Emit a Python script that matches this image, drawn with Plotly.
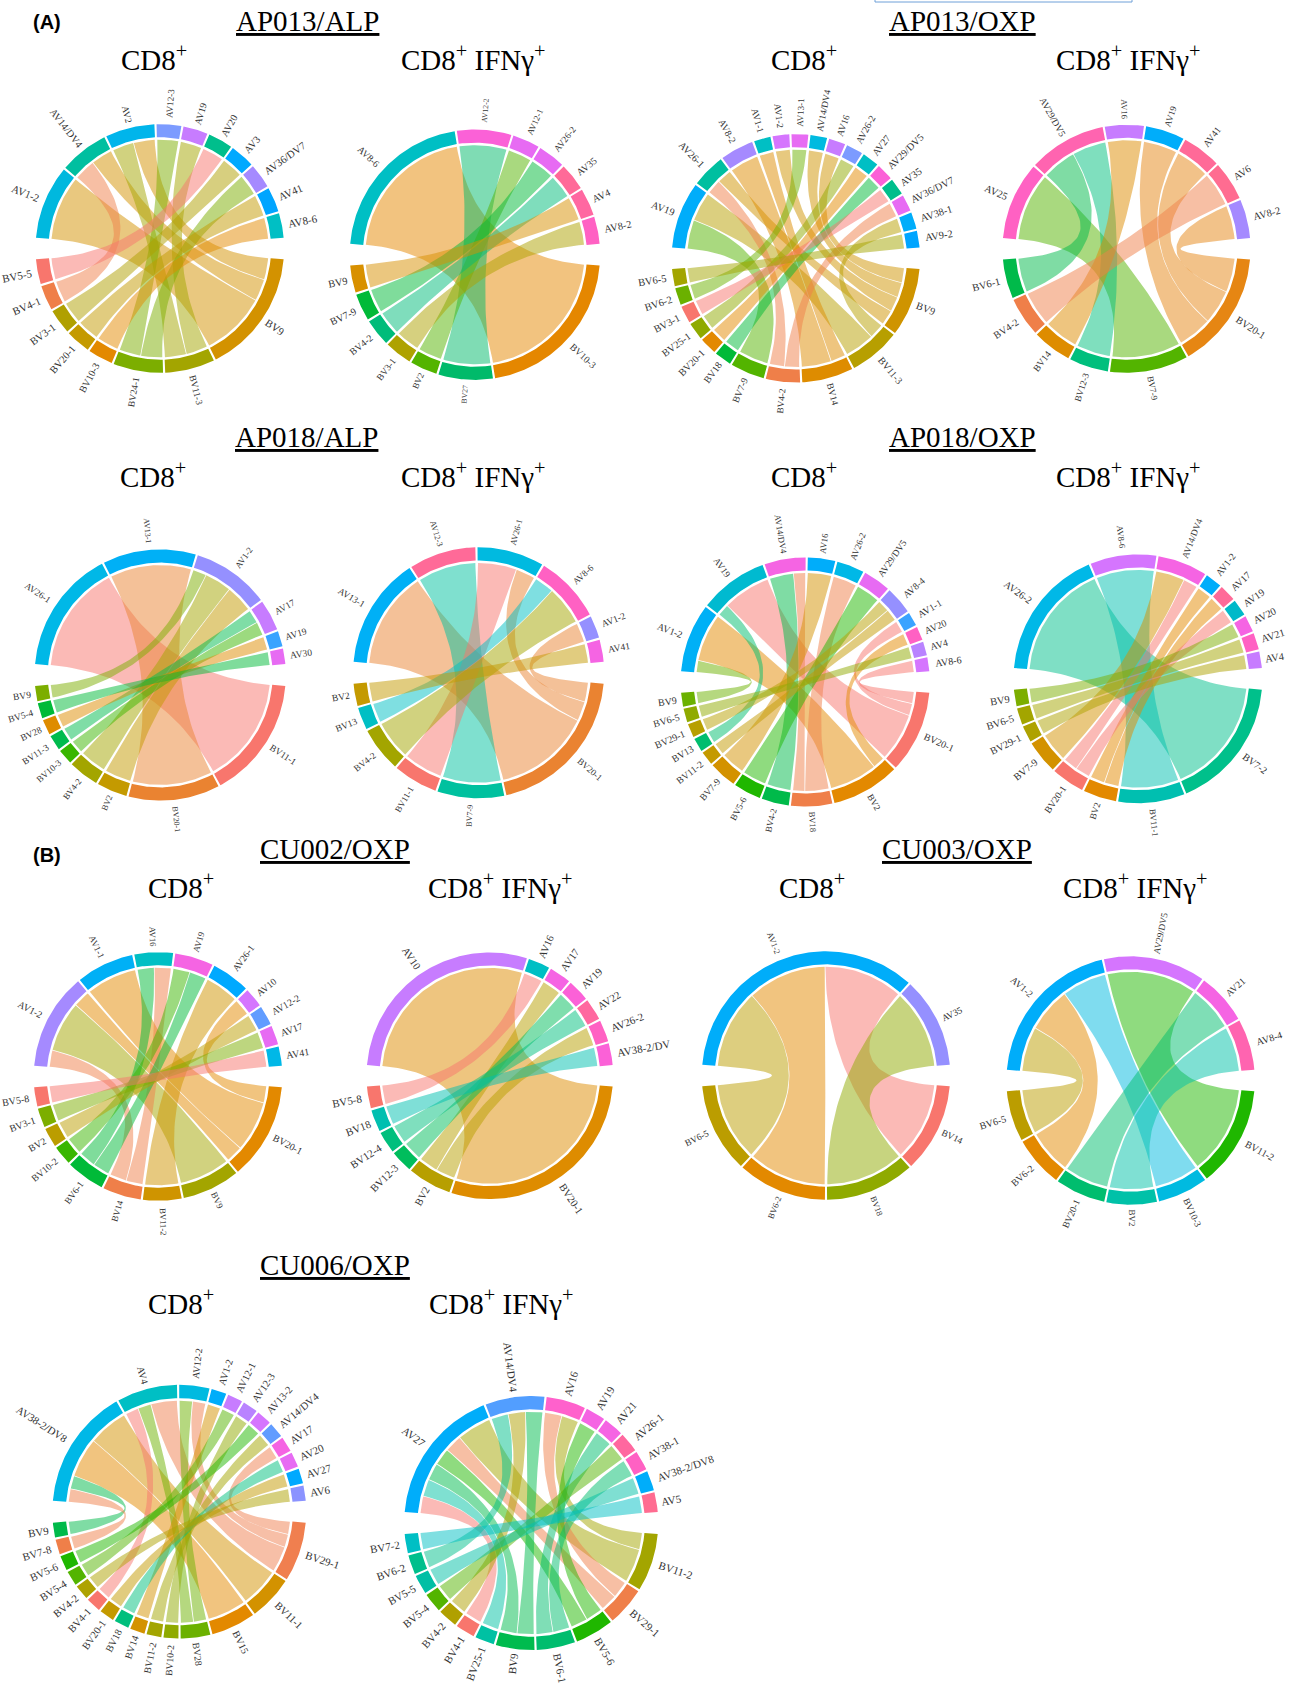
import math
import plotly.graph_objects as go

W, H = 1293, 1683

# ---- data: sector names, sector colours, links (AV, BV, clone count) ----
P1_AV = ["AV1-2","AV14/DV4","AV2","AV12-3","AV19","AV20","AV3","AV36/DV7","AV41","AV8-6"]
P1_AV_COL = ["#00B8DE","#00BFA0","#00B5EB","#7C9BFF","#C77CFF","#00BE8C","#00A9FF","#A58AFF","#00A5FF","#00BFC4"]
P1_BV = ["BV9","BV11-3","BV24-1","BV10-3","BV20-1","BV3-1","BV4-1","BV5-5"]
P1_BV_COL = ["#D39200","#A3A500","#7CAE00","#E38900","#C49A00","#B0A000","#EF7F49","#F8766D"]
P1_LINKS = [("AV1-2","BV9",3),("AV14/DV4","BV4-1",1),("AV14/DV4","BV9",1),("AV2","BV11-3",1),("AV2","BV9",1),
            ("AV12-3","BV24-1",1),("AV19","BV11-3",1),("AV20","BV5-5",1),("AV3","BV3-1",1),("AV36/DV7","BV24-1",1),
            ("AV41","BV20-1",1),("AV8-6","BV10-3",1)]

P2_AV = ["AV8-6","AV12-2","AV12-1","AV26-2","AV35","AV4","AV8-2"]
P2_AV_COL = ["#00BFC4","#FB61D7","#E76BF3","#E76BF3","#FF6A98","#FF68A1","#FF61C3"]
P2_BV = ["BV10-3","BV27","BV2","BV3-1","BV4-2","BV7-9","BV9"]
P2_BV_COL = ["#E58700","#00BA6A","#53B400","#AEA200","#00BC7A","#00BA38","#D89000"]
P2_LINKS = [("AV8-6","BV10-3",6),("AV12-2","BV27",2),("AV12-1","BV2",1),("AV26-2","BV7-9",1),
            ("AV35","BV4-2",1),("AV4","BV9",1),("AV8-2","BV3-1",1)]

P3_AV = ["AV19","AV26-1","AV8-2","AV1-1","AV1-2","AV13-1","AV14/DV4","AV16","AV26-2","AV27","AV29/DV5","AV35","AV36/DV7","AV38-1","AV9-2"]
P3_AV_COL = ["#00ADFA","#00BFA0","#A58AFF","#00BFC4","#D575FE","#E76BF3","#00BAE0","#C77CFF","#7C9BFF","#00BFC4","#FB61D7","#00BE8C","#E76BF3","#00ADFA","#00A5FF"]
P3_BV = ["BV9","BV11-3","BV14","BV4-2","BV7-9","BV18","BV20-1","BV25-1","BV3-1","BV6-2","BV6-5"]
P3_BV_COL = ["#CF9400","#B79F00","#DE8C00","#EF7F49","#53B400","#00BA38","#E38900","#8FAA00","#F8766D","#6BB100","#A3A500"]
P3_LINKS = [("AV19","BV7-9",2),("AV19","BV11-3",2),("AV26-1","BV4-2",1),("AV26-1","BV9",1),("AV8-2","BV14",2),
            ("AV1-1","BV14",1),("AV1-2","BV9",1),("AV13-1","BV6-2",1),("AV14/DV4","BV9",1),("AV16","BV9",1),
            ("AV26-2","BV25-1",1),("AV27","BV20-1",1),("AV29/DV5","BV18",1),("AV35","BV3-1",1),("AV36/DV7","BV4-2",1),
            ("AV38-1","BV11-3",1),("AV9-2","BV6-5",1)]

P4_AV = ["AV25","AV29/DV5","AV16","AV19","AV41","AV6","AV8-2"]
P4_AV_COL = ["#FF61C3","#FF64B0","#C77CFF","#00ADFA","#FF6A98","#FF6C91","#A58AFF"]
P4_BV = ["BV20-1","BV7-9","BV12-3","BV14","BV4-2","BV6-1"]
P4_BV_COL = ["#E68613","#53B400","#00BF7D","#DE8C00","#EF7F49","#00BA4A"]
P4_LINKS = [("AV25","BV7-9",2),("AV29/DV5","BV6-1",1),("AV29/DV5","BV12-3",1),("AV16","BV14",1),
            ("AV19","BV20-1",1),("AV41","BV20-1",1),("AV6","BV4-2",1),("AV8-2","BV20-1",1)]

P5_AV = ["AV26-1","AV13-1","AV1-2","AV17","AV19","AV30"]
P5_AV_COL = ["#00B8E7","#00B0F6","#9590FF","#C77CFF","#39A3FF","#E76BF3"]
P5_BV = ["BV11-1","BV20-1","BV2","BV4-2","BV10-3","BV11-3","BV28","BV5-4","BV9"]
P5_BV_COL = ["#F8766D","#EA8331","#C49A00","#A3A500","#39B600","#00BB4E","#DE8C00","#00BA38","#7CAE00"]
P5_LINKS = [("AV26-1","BV11-1",8),("AV13-1","BV20-1",6),("AV1-2","BV9",1),("AV1-2","BV4-2",2),("AV1-2","BV2",2),
            ("AV17","BV11-3",1),("AV17","BV10-3",1),("AV19","BV28",1),("AV30","BV5-4",1)]

P6_AV = ["AV13-1","AV12-3","AV26-1","AV8-6","AV1-2","AV41"]
P6_AV_COL = ["#00B0F6","#FF6A98","#00BAE0","#FF61C3","#9590FF","#F564E3"]
P6_BV = ["BV20-1","BV7-9","BV11-1","BV4-2","BV13","BV2"]
P6_BV_COL = ["#EA8331","#00C19F","#F8766D","#A3A500","#00BFC4","#C49A00"]
P6_LINKS = [("AV13-1","BV20-1",5),("AV12-3","BV7-9",3),("AV26-1","BV11-1",2),("AV26-1","BV20-1",1),
            ("AV8-6","BV13",1),("AV8-6","BV4-2",2),("AV1-2","BV20-1",1),("AV41","BV2",1)]

P7_AV = ["AV1-2","AV19","AV14/DV4","AV16","AV26-2","AV29/DV5","AV8-4","AV1-1","AV20","AV4","AV8-6"]
P7_AV_COL = ["#00B0F6","#00BAD0","#F564E3","#00ADFA","#00B8E7","#E76BF3","#9590FF","#39A3FF","#FF61C3","#B983FF","#D575FE"]
P7_BV = ["BV20-1","BV2","BV18","BV4-2","BV5-6","BV7-9","BV11-2","BV13","BV29-1","BV6-5","BV9"]
P7_BV_COL = ["#F8766D","#E38900","#EF7F49","#00BA4A","#1FB700","#D39200","#C49A00","#00BD6E","#B79F00","#8FAA00","#6BB100"]
P7_LINKS = [("AV1-2","BV9",1),("AV1-2","BV2",4),("AV19","BV13",1),("AV19","BV20-1",4),("AV14/DV4","BV4-2",2),
            ("AV14/DV4","BV18",1),("AV16","BV7-9",2),("AV26-2","BV18",2),("AV29/DV5","BV5-6",2),("AV8-4","BV29-1",1),
            ("AV8-4","BV11-2",1),("AV1-1","BV20-1",1),("AV20","BV2",1),("AV4","BV6-5",1),("AV8-6","BV20-1",1)]

P8_AV = ["AV26-2","AV8-6","AV14/DV4","AV1-2","AV17","AV19","AV20","AV21","AV4"]
P8_AV_COL = ["#00B8E7","#D575FE","#F564E3","#00ADFA","#FF6A98","#00B9C9","#F564E3","#FF61C3","#C77CFF"]
P8_BV = ["BV7-2","BV11-1","BV2","BV20-1","BV7-9","BV29-1","BV6-5","BV9"]
P8_BV_COL = ["#00C08B","#00BFB0","#E38900","#F8766D","#D39200","#AEA200","#A3A500","#7CAE00"]
P8_LINKS = [("AV26-2","BV7-2",8),("AV8-6","BV11-1",4),("AV14/DV4","BV7-9",2),("AV14/DV4","BV20-1",1),("AV1-2","BV2",1),
            ("AV17","BV2",1),("AV19","BV20-1",1),("AV20","BV9",1),("AV21","BV6-5",1),("AV4","BV29-1",1)]

P9_AV = ["AV1-2","AV1-1","AV16","AV19","AV26-1","AV10","AV12-2","AV17","AV41"]
P9_AV_COL = ["#A58AFF","#00B0F6","#00BFC4","#F564E3","#00A9FF","#D575FE","#619CFF","#E76BF3","#00B8E7"]
P9_BV = ["BV20-1","BV9","BV11-2","BV14","BV6-1","BV10-2","BV2","BV3-1","BV5-8"]
P9_BV_COL = ["#E38900","#A3A500","#CF9400","#EF7F49","#00BA38","#39B600","#BB9D00","#7CAE00","#F8766D"]
P9_LINKS = [("AV1-2","BV14",1),("AV1-2","BV9",3),("AV1-2","BV20-1",1),("AV1-1","BV20-1",3),("AV16","BV14",1),
            ("AV16","BV6-1",1),("AV19","BV10-2",1),("AV19","BV6-1",1),("AV26-1","BV11-2",2),("AV10","BV20-1",1),
            ("AV12-2","BV2",1),("AV17","BV3-1",1),("AV41","BV5-8",1)]

P10_AV = ["AV10","AV16","AV17","AV19","AV22","AV26-2","AV38-2/DV"]
P10_AV_COL = ["#C77CFF","#00BFC4","#F564E3","#FB61D7","#FF689F","#FF61C3","#FB61D7"]
P10_BV = ["BV20-1","BV2","BV12-3","BV12-4","BV18","BV5-8"]
P10_BV_COL = ["#DE8C00","#B79F00","#00BD5C","#00BF7D","#00BFB0","#F8766D"]
P10_LINKS = [("AV10","BV20-1",10),("AV16","BV5-8",1),("AV17","BV2",1),("AV19","BV12-3",1),("AV22","BV12-4",1),
             ("AV26-2","BV2",1),("AV38-2/DV","BV18",1)]

P11_AV = ["AV1-2","AV35"]
P11_AV_COL = ["#00ADFA","#9590FF"]
P11_BV = ["BV14","BV18","BV6-2","BV6-5"]
P11_BV_COL = ["#F8766D","#8FAA00","#E38900","#BB9D00"]
P11_LINKS = [("AV1-2","BV6-5",1),("AV1-2","BV6-2",1),("AV1-2","BV14",1),("AV35","BV18",1)]

P12_AV = ["AV1-2","AV29/DV5","AV21","AV8-4"]
P12_AV_COL = ["#00ADFA","#D575FE","#F564E3","#FF64B0"]
P12_BV = ["BV11-2","BV10-3","BV2","BV20-1","BV6-2","BV6-5"]
P12_BV_COL = ["#1FB700","#00BAE0","#00C1A8","#00BD6E","#E38900","#BB9D00"]
P12_LINKS = [("AV1-2","BV6-5",1),("AV1-2","BV6-2",1),("AV1-2","BV10-3",1),("AV29/DV5","BV11-2",2),
             ("AV21","BV20-1",1),("AV8-4","BV2",1)]

P13_AV = ["AV38-2/DV8","AV4","AV12-2","AV1-2","AV12-1","AV12-3","AV13-2","AV14/DV4","AV17","AV20","AV27","AV6"]
P13_AV_COL = ["#00B8E7","#00BFC4","#00BAE0","#00ADFA","#C77CFF","#B983FF","#D575FE","#619CFF","#F564E3","#E76BF3","#00A9FF","#8B93FF"]
P13_BV = ["BV29-1","BV11-1","BV15","BV28","BV10-2","BV11-2","BV14","BV18","BV20-1","BV4-1","BV4-2","BV5-4","BV5-6","BV7-8","BV9"]
P13_BV_COL = ["#F07F4F","#D39200","#E38900","#6BB100","#8FAA00","#A3A500","#D39200","#00BF7D","#C49A00","#F8766D","#AEA200","#53B400","#1FB700","#EF7F49","#00BA4A"]
P13_LINKS = [("AV38-2/DV8","BV9",1),("AV38-2/DV8","BV7-8",1),("AV38-2/DV8","BV15",3),("AV38-2/DV8","BV11-1",3),
             ("AV4","BV4-1",1),("AV4","BV28",1),("AV4","BV29-1",2),("AV12-2","BV28",1),("AV12-2","BV29-1",1),
             ("AV1-2","BV14",1),("AV12-1","BV5-4",1),("AV12-3","BV10-2",1),("AV13-2","BV5-6",1),("AV14/DV4","BV11-2",1),
             ("AV17","BV29-1",1),("AV20","BV18",1),("AV27","BV20-1",1),("AV6","BV4-2",1)]
P13_AV_ORDER = {"AV38-2/DV8": ["BV7-8","BV9","BV15","BV11-1"]}

P14_AV = ["AV27","AV14/DV4","AV16","AV19","AV21","AV26-1","AV38-1","AV38-2/DV8","AV5"]
P14_AV_COL = ["#00ADFA","#529EFF","#FF61CC","#F564E3","#F564E3","#FF689F","#FF61C3","#00ADFA","#FF6C91"]
P14_BV = ["BV11-2","BV29-1","BV5-6","BV6-1","BV9","BV25-1","BV4-1","BV4-2","BV5-4","BV5-5","BV6-2","BV7-2"]
P14_BV_COL = ["#A3A500","#EF7F49","#1FB700","#00BD6E","#00BB4E","#00C1A3","#F8766D","#B0A000","#53B400","#00BFA5","#00BF8C","#00BFC4"]
P14_LINKS = [("AV27","BV4-1",1),("AV27","BV25-1",1),("AV27","BV9",1),("AV27","BV5-6",1),("AV27","BV29-1",1),("AV27","BV11-2",2),
             ("AV14/DV4","BV6-2",1),("AV14/DV4","BV4-2",1),("AV14/DV4","BV9",1),("AV16","BV29-1",1),("AV16","BV11-2",1),
             ("AV19","BV5-6",1),("AV21","BV6-1",1),("AV26-1","BV5-4",1),("AV38-1","BV6-1",1),("AV38-2/DV8","BV5-5",1),("AV5","BV7-2",1)]

# ---- layout of the page: (data, order overrides, centre x, centre y, radius, label size along x, label size along y) ----
PANELS = [
    (P1_AV,P1_AV_COL,P1_BV,P1_BV_COL,P1_LINKS,{},159.8,248.5,124.3,11,9),
    (P2_AV,P2_AV_COL,P2_BV,P2_BV_COL,P2_LINKS,{},474.9,254.7,125.2,10.5,7.5),
    (P3_AV,P3_AV_COL,P3_BV,P3_BV_COL,P3_LINKS,{},795.8,258.3,124.2,10.5,9),
    (P4_AV,P4_AV_COL,P4_BV,P4_BV_COL,P4_LINKS,{},1126.5,248.8,124,10.5,8.5),
    (P5_AV,P5_AV_COL,P5_BV,P5_BV_COL,P5_LINKS,{},160.2,675,125.6,9.5,7.8),
    (P6_AV,P6_AV_COL,P6_BV,P6_BV_COL,P6_LINKS,{},478.6,672.8,125.5,9.5,8),
    (P7_AV,P7_AV_COL,P7_BV,P7_BV_COL,P7_LINKS,{},805.2,682,124.6,10,8.5),
    (P8_AV,P8_AV_COL,P8_BV,P8_BV_COL,P8_LINKS,{},1137.9,678.8,124.4,10.5,8.5),
    (P9_AV,P9_AV_COL,P9_BV,P9_BV_COL,P9_LINKS,{},158,1076.5,124.3,10,8.5),
    (P10_AV,P10_AV_COL,P10_BV,P10_BV_COL,P10_LINKS,{},489.8,1075.8,123.3,11,10),
    (P11_AV,P11_AV_COL,P11_BV,P11_BV_COL,P11_LINKS,{},826,1075.5,124.2,9.5,8),
    (P12_AV,P12_AV_COL,P12_BV,P12_BV_COL,P12_LINKS,{},1130.6,1080.5,124.2,10,9),
    (P13_AV,P13_AV_COL,P13_BV,P13_BV_COL,P13_LINKS,P13_AV_ORDER,179.3,1511.7,126.9,11,9.5),
    (P14_AV,P14_AV_COL,P14_BV,P14_BV_COL,P14_LINKS,{},531.2,1523,127,11,11),
]

TITLES = [("AP013/ALP",307,21),("AP013/OXP",962.5,21),("AP018/ALP",306.7,437),("AP018/OXP",962,437),
          ("CU002/OXP",334.5,849),("CU003/OXP",957,849),("CU006/OXP",334.5,1265)]
SUB_CD8 = [(153.5,58),(803.5,58),(153,475),(803.5,475),(180.6,886),(811.5,886),(180.6,1302)]
SUB_IFN = [(473,58),(1128.5,58),(473,475),(1128.5,475),(500.5,886),(1135.5,886),(502,1302)]
TAGS = [("(A)",47,22),("(B)",47,855)]

HALF_GAP = 5.0      # half of the wide opening between the AV and BV halves, degrees
SECTOR_GAP = 1.0    # gap between sectors, degrees
LINK_GAP = 0.4      # white seam between neighbouring ribbons, degrees
R_OUT, R_IN, R_LINK = 1.0, 0.895, 0.875
EXTENT = 1.75


def rgba(hex_colour, alpha):
    h = hex_colour.lstrip("#")
    return f"rgba({int(h[:2],16)},{int(h[2:4],16)},{int(h[4:],16)},{alpha})"


def pt(a, r):
    return r * math.cos(math.radians(a)), r * math.sin(math.radians(a))


def arc(a0, a1, r):
    n = max(2, int(abs(a1 - a0)) + 2)
    return [pt(a0 + (a1 - a0) * i / (n - 1), r) for i in range(n)]


def bezier(p0, p1, n=40):
    out = []
    for i in range(n + 1):
        t = i / n
        k = (1 - t) ** 2
        m = t ** 2
        out.append((k * p0[0] + m * p1[0], k * p0[1] + m * p1[1]))
    return out


def layout_half(names, links, key, start, end):
    """Sector spans on one half, running clockwise from start to end (degrees)."""
    totals = {n: sum(l[2] for l in links if l[key] == n) for n in names}
    unit = (start - end - SECTOR_GAP * (len(names) - 1)) / sum(totals.values())
    spans, a = {}, start
    for n in names:
        spans[n] = (a, a - totals[n] * unit)
        a = spans[n][1] - SECTOR_GAP
    return spans, unit


def polygon(points, colour, xa, ya):
    return go.Scatter(x=[p[0] for p in points], y=[p[1] for p in points], mode="lines", fill="toself",
                      fillcolor=colour, line=dict(width=0), hoverinfo="skip", showlegend=False, xaxis=xa, yaxis=ya)


fig = go.Figure()
annotations = []
layout_axes = {}

for idx, (av, av_col, bv, bv_col, links, av_order, cx, cy, r, fs_h, fs_v) in enumerate(PANELS, start=1):
    xa, ya = f"x{idx}", f"y{idx}"
    x0 = max(0.0, cx - EXTENT * r); x1 = min(float(W), cx + EXTENT * r)
    y0 = max(0.0, cy - EXTENT * r); y1 = min(float(H), cy + EXTENT * r)
    layout_axes[f"xaxis{idx}"] = dict(domain=[x0 / W, x1 / W], range=[(x0 - cx) / r, (x1 - cx) / r], visible=False,
                                      anchor=ya, fixedrange=True)
    layout_axes[f"yaxis{idx}"] = dict(domain=[1 - y1 / H, 1 - y0 / H], range=[(cy - y1) / r, (cy - y0) / r], visible=False,
                                      anchor=xa, fixedrange=True)

    a_spans, a_unit = layout_half(av, links, 0, 180 - HALF_GAP, HALF_GAP)
    b_spans, b_unit = layout_half(bv, links, 1, -HALF_GAP, -180 + HALF_GAP)

    # place each link inside its sectors so that ribbons do not twist
    a_pos = {}
    for n in av:
        a = a_spans[n][0]
        rows = sorted([l for l in links if l[0] == n], key=lambda l: -bv.index(l[1]))
        if n in av_order:
            rows = sorted(rows, key=lambda l: av_order[n].index(l[1]))
        for l in rows:
            a_pos[l] = (a - LINK_GAP / 2, a - l[2] * a_unit + LINK_GAP / 2)
            a -= l[2] * a_unit
    b_pos = {}
    for n in bv:
        b = b_spans[n][0]
        for l in sorted([l for l in links if l[1] == n], key=lambda l: -av.index(l[0])):
            b_pos[l] = (b - LINK_GAP / 2, b - l[2] * b_unit + LINK_GAP / 2)
            b -= l[2] * b_unit

    for l in links:
        (a0, a1), (b0, b1) = a_pos[l], b_pos[l]
        pts = (arc(a0, a1, R_LINK) + bezier(pt(a1, R_LINK), pt(b0, R_LINK))
               + arc(b0, b1, R_LINK) + bezier(pt(b1, R_LINK), pt(a0, R_LINK)))
        fig.add_trace(polygon(pts, rgba(bv_col[bv.index(l[1])], 0.5), xa, ya))

    for names, cols, spans in ((av, av_col, a_spans), (bv, bv_col, b_spans)):
        for n, c in zip(names, cols):
            s, e = spans[n]
            fig.add_trace(polygon(arc(s, e, R_OUT) + arc(e, s, R_IN), c, xa, ya))
            mid = (s + e) / 2
            fs = round(fs_v + (fs_h - fs_v) * abs(math.cos(math.radians(mid))), 1)
            half_len = 0.28 * fs * len(n)
            rad = R_OUT + (6 + half_len) / r
            lx, ly = pt(mid, rad)
            angle = -mid if math.cos(math.radians(mid)) >= 0 else 180 - mid
            annotations.append(dict(text=n, x=lx, y=ly, xref=xa, yref=ya, showarrow=False, textangle=angle,
                                    xanchor="center", yanchor="middle",
                                    font=dict(family="Liberation Serif", size=fs, color="#333333")))


def page_text(text, x, y, size, family="Liberation Serif", colour="#000000"):
    annotations.append(dict(text=text, x=x / W, y=1 - y / H, xref="paper", yref="paper", showarrow=False,
                            xanchor="center", yanchor="middle", font=dict(family=family, size=size, color=colour)))


for t, x, y in TITLES:
    page_text(f"<u>{t}</u>", x, y, 29)
for x, y in SUB_CD8:
    page_text("CD8<sup>+</sup>", x, y, 29)
for x, y in SUB_IFN:
    page_text("CD8<sup>+</sup> IFNγ<sup>+</sup>", x, y, 29)
for t, x, y in TAGS:
    page_text(f"<b>{t}</b>", x, y, 20, family="Liberation Sans")

fig.update_layout(width=W, height=H, autosize=False, margin=dict(l=0, r=0, t=0, b=0, pad=0),
                  paper_bgcolor="white", plot_bgcolor="rgba(0,0,0,0)", showlegend=False,
                  annotations=annotations,
                  shapes=[dict(type="rect", xref="paper", yref="paper", x0=875 / W, x1=1132 / W,
                               y0=1 - 2 / H, y1=1 + 6 / H, line=dict(color="#6FA0D8", width=1))],
                  **layout_axes)

fig.write_html("out.html", post_script="document.body.style.margin='0';document.body.style.overflow='hidden';",
               config={"displayModeBar": False})
